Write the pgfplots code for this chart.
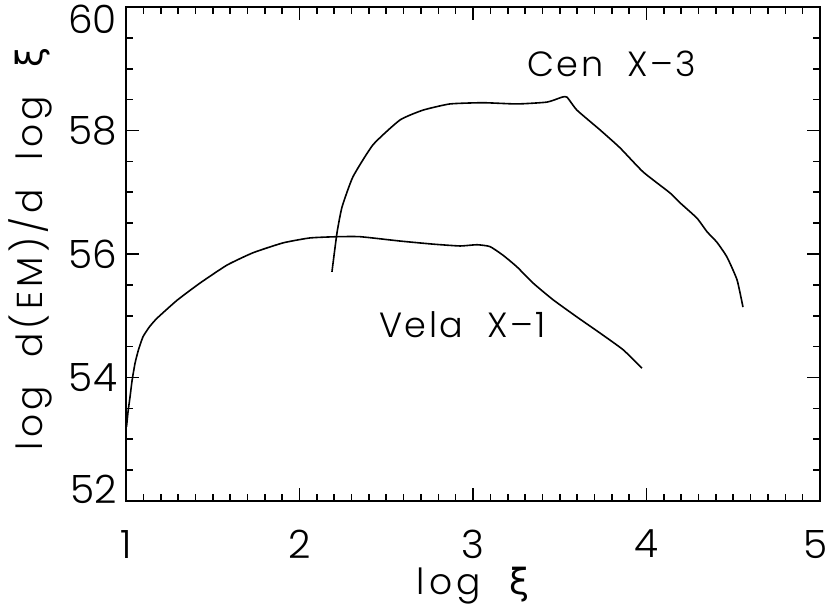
\documentclass[border=0pt]{standalone}
\usepackage{fontspec}
\setmainfont{Poppins}[UprightFont={* Light}]
\newfontfamily\lab{Poppins}[UprightFont={* Light}, LetterSpace=12, WordSpace=2]
\newfontfamily\ann{Poppins}[UprightFont={* Light}, LetterSpace=7, WordSpace=2]
\newfontfamily\gk{DejaVu Sans}
\usepackage{pgfplots}
\pgfplotsset{compat=1.18}

\begin{document}
\begin{tikzpicture}
\begin{axis}[
    name=ax,
    scale only axis,
    width=347pt, height=247pt,
    xmin=1, xmax=5, ymin=52, ymax=60,
    xtick={1,2,3,4,5}, ytick={52,54,56,58,60},
    minor x tick num=9, minor y tick num=3,
    major tick length=6.5pt, minor tick length=3.5pt,
    tick align=inside,
    axis line style={line width=1pt},
    every tick/.style={black, line width=0.8pt},
    /pgf/number format/assume math mode=true,
    ticklabel style={font=\fontsize{19.5}{19.5}\selectfont},
    xticklabel style={yshift=-11pt, xshift={ifthenelse(\ticknum==4,-2,0)*1pt}},
    yticklabel style={xshift=-1pt, yshift={ifthenelse(\ticknum==0,6,ifthenelse(\ticknum==4,-6,0))*1pt}},
    xlabel={log {\gk ξ}},
    ylabel={log d(EM)/d log {\gk ξ}},
    label style={font=\lab\fontsize{18}{18}\selectfont},
    xlabel style={at={(axis description cs:0.5,0)}, anchor=center, yshift=-42.5pt},
    ylabel style={at={(axis description cs:-0.1383,0.51)}, anchor=center},
]
\addplot[black, line width=0.8pt, smooth, tension=0.3] coordinates {
    (1.003,53.20) (1.012,53.45) (1.023,53.68) (1.035,53.95) (1.052,54.23)
    (1.072,54.45) (1.098,54.66) (1.135,54.82) (1.179,54.96)
    (1.294,55.25) (1.427,55.53) (1.582,55.82) (1.732,56.02) (1.905,56.18)
    (2.060,56.26) (2.216,56.28) (2.350,56.28) (2.579,56.21) (2.769,56.16)
    (2.925,56.13) (3.023,56.15) (3.098,56.12) (3.173,55.98) (3.254,55.79)
    (3.346,55.53) (3.461,55.26) (3.599,54.98) (3.732,54.72) (3.865,54.45)
    (3.974,54.15)
};
\addplot[black, line width=0.8pt, smooth, tension=0.3] coordinates {
    (2.187,55.71) (2.216,56.34) (2.245,56.76) (2.308,57.25) (2.424,57.77)
    (2.579,58.17) (2.712,58.33) (2.867,58.43) (3.058,58.45) (3.254,58.43)
    (3.427,58.46) (3.513,58.54) (3.542,58.54) (3.599,58.33) (3.732,58.01)
    (3.847,57.72) (3.980,57.33) (4.135,56.99) (4.193,56.83) (4.291,56.58)
    (4.349,56.36) (4.406,56.19) (4.464,55.95) (4.522,55.58) (4.556,55.14)
};
\node[font=\ann\fontsize{17.5}{17.5}\selectfont] at (axis cs:3.80,59.08) {Cen X–3};
\node[font=\ann\fontsize{17.5}{17.5}\selectfont] at (axis cs:2.94,54.85) {Vela X–1};
\end{axis}
\pgfresetboundingbox
\useasboundingbox ([xshift=-63pt,yshift=-54pt]ax.south west) rectangle ([xshift=4pt,yshift=3.5pt]ax.north east);
\end{tikzpicture}
\end{document}
